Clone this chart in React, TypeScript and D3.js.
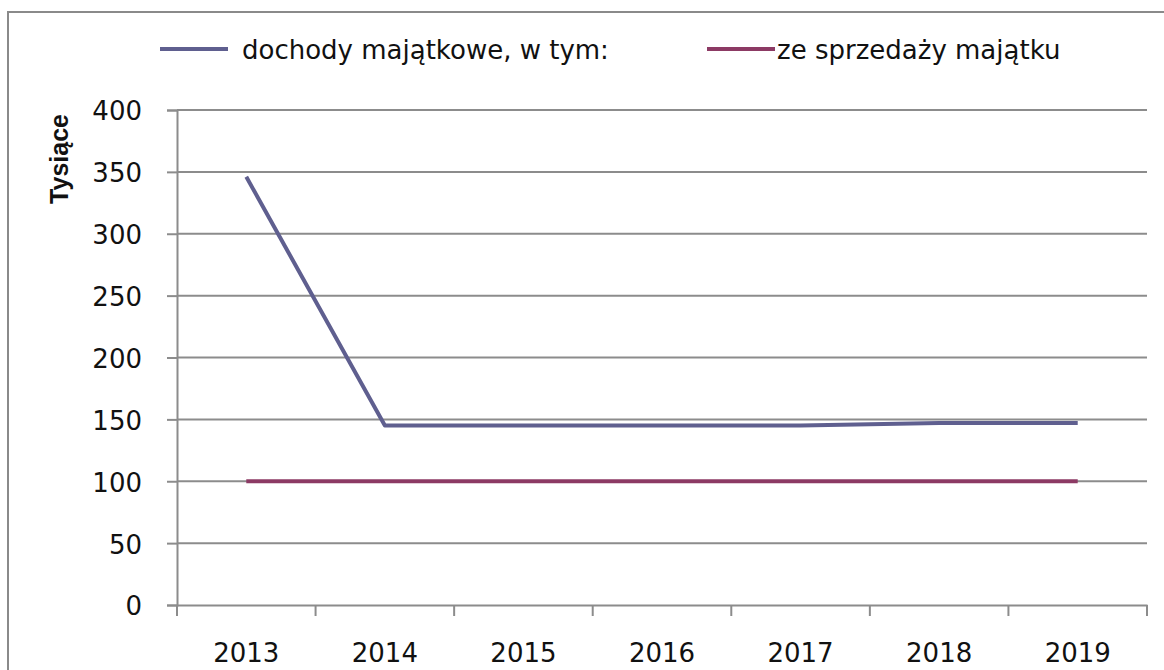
import React, { useEffect, useRef } from 'react';
import * as d3 from 'd3';

const years: string[] = ['2013', '2014', '2015', '2016', '2017', '2018', '2019'];
const dochodyMajatkowe: number[] = [346, 145, 145, 145, 145, 147, 147];
const zeSprzedazy: number[] = [100, 100, 100, 100, 100, 100, 100];
const yTicks: number[] = [0, 50, 100, 150, 200, 250, 300, 350, 400];

const seriesNames: string[] = ['dochody majątkowe, w tym:', 'ze sprzedaży majątku'];
const seriesColors: string[] = ['#5f5f8f', '#8c3a64'];

export default function App() {
  const ref = useRef<SVGSVGElement>(null);

  useEffect(() => {
    const width = 1164;
    const height = 670;
    const margin = { top: 110, bottom: 65, left: 177, right: 17 };
    const font = 'DejaVu Sans, Verdana, sans-serif';

    const svg = d3.select(ref.current);
    svg.selectAll('*').remove();

    // outer chart frame
    svg
      .append('rect')
      .attr('x', 8)
      .attr('y', 12)
      .attr('width', 1180)
      .attr('height', 700)
      .attr('fill', '#fff')
      .attr('stroke', '#8a8a8a')
      .attr('stroke-width', 2);

    const xScale = d3
      .scaleBand()
      .domain(years)
      .range([margin.left, width - margin.right]);

    const yScale = d3
      .scaleLinear()
      .domain([0, 400])
      .range([height - margin.bottom, margin.top]);

    const xCenter = (d: string) => (xScale(d) as number) + xScale.bandwidth() / 2;

    // gridlines
    svg
      .append('g')
      .selectAll('line')
      .data(yTicks.filter((d) => d > 0))
      .enter()
      .append('line')
      .attr('x1', margin.left)
      .attr('x2', width - margin.right)
      .attr('y1', (d) => yScale(d))
      .attr('y2', (d) => yScale(d))
      .attr('stroke', '#8c8c8c')
      .attr('stroke-width', 2);

    // y axis
    const yAxis = d3
      .axisLeft(yScale)
      .tickValues(yTicks)
      .tickSize(10)
      .tickPadding(25);

    const yG = svg
      .append('g')
      .attr('transform', `translate(${margin.left}, 0)`)
      .call(yAxis);
    yG.select('.domain').attr('stroke', '#8c8c8c').attr('stroke-width', 2);
    yG.selectAll('.tick line').attr('stroke', '#8c8c8c').attr('stroke-width', 2);
    yG.selectAll('.tick text')
      .attr('font-family', font)
      .attr('font-size', 26)
      .attr('fill', '#111')
      .attr('dy', '0.38em');

    // x axis: ticks between categories
    const xAxis = d3
      .axisBottom(xScale)
      .tickSize(0)
      .tickPadding(39);

    const xG = svg
      .append('g')
      .attr('transform', `translate(0, ${height - margin.bottom})`)
      .call(xAxis);
    xG.select('.domain').attr('stroke', '#8c8c8c').attr('stroke-width', 2);
    xG.selectAll('.tick text')
      .attr('font-family', font)
      .attr('font-size', 26)
      .attr('fill', '#111');

    const boundaries = years.map((d) => xScale(d) as number).concat([width - margin.right]);
    xG.append('g')
      .selectAll('line')
      .data(boundaries)
      .enter()
      .append('line')
      .attr('x1', (d) => d)
      .attr('x2', (d) => d)
      .attr('y1', 0)
      .attr('y2', 11)
      .attr('stroke', '#8c8c8c')
      .attr('stroke-width', 2);

    // y axis title
    svg
      .append('text')
      .attr('transform', `translate(68, 159) rotate(-90)`)
      .attr('text-anchor', 'middle')
      .attr('font-family', 'Liberation Sans, Arial, sans-serif')
      .attr('font-weight', 'bold')
      .attr('font-size', 25)
      .attr('fill', '#111')
      .text('Tysiące');

    // lines
    const line = d3
      .line<number>()
      .x((d, i) => xCenter(years[i]))
      .y((d) => yScale(d));

    [dochodyMajatkowe, zeSprzedazy].forEach((values, i) => {
      svg
        .append('path')
        .datum(values)
        .attr('d', line)
        .attr('fill', 'none')
        .attr('stroke', seriesColors[i])
        .attr('stroke-width', 4)
        .attr('stroke-linejoin', 'round');
    });

    // legend
    const legendPos = [
      { x1: 160, x2: 228, tx: 242 },
      { x1: 707, x2: 775, tx: 777 },
    ];
    const legend = svg
      .append('g')
      .selectAll('g')
      .data(seriesNames)
      .enter()
      .append('g');

    legend
      .append('line')
      .attr('x1', (d, i) => legendPos[i].x1)
      .attr('x2', (d, i) => legendPos[i].x2)
      .attr('y1', 49)
      .attr('y2', 49)
      .attr('stroke', (d, i) => seriesColors[i])
      .attr('stroke-width', 4);

    legend
      .append('text')
      .attr('x', (d, i) => legendPos[i].tx)
      .attr('y', 59)
      .attr('font-family', font)
      .attr('font-size', 26)
      .attr('fill', '#111')
      .text((d) => d);
  }, []);

  return (
    <svg
      ref={ref}
      width={1164}
      height={670}
      style={{ position: 'absolute', left: 0, top: 0, background: '#fff' }}
    />
  );
}
